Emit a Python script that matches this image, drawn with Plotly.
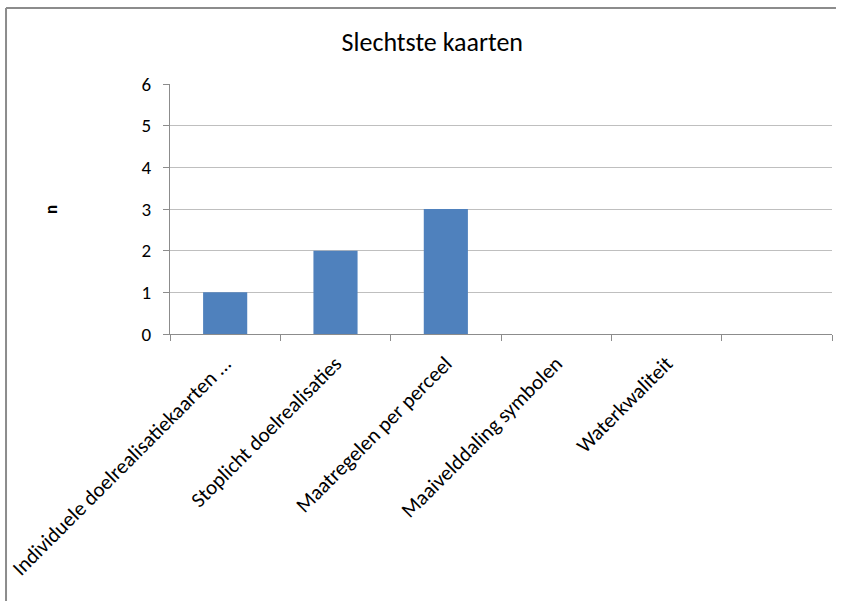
import plotly.graph_objects as go

categories = [
    "Individuele doelrealisatiekaarten ...",
    "Stoplicht doelrealisaties",
    "Maatregelen per perceel",
    "Maaivelddaling symbolen",
    "Waterkwaliteit",
    " ",
]
values = [1, 2, 3, 0, 0, None]
y_ticks = [0, 1, 2, 3, 4, 5, 6]

FONT = "Calibri, Carlito, Lato, sans-serif"
GRID = "#BFBFBF"
AXIS = "#8C8C8C"

fig = go.Figure(
    go.Bar(x=categories, y=values, marker=dict(color="#4F81BD", line=dict(width=0)))
)

fig.update_layout(
    width=846,
    height=601,
    margin=dict(l=170, r=14, t=84, b=267),
    paper_bgcolor="white",
    plot_bgcolor="white",
    bargap=0.6,
    showlegend=False,
    font=dict(family=FONT, color="#000000"),
    title=dict(
        text="Slechtste kaarten",
        x=0.511,
        xref="container",
        xanchor="center",
        y=0.930,
        yref="container",
        yanchor="middle",
        font=dict(family=FONT, size=26, color="#000000"),
    ),
)

fig.update_xaxes(
    type="category",
    categoryorder="array",
    categoryarray=categories,
    showgrid=False,
    showline=True,
    linecolor=AXIS,
    linewidth=1,
    ticks="outside",
    tickson="boundaries",
    ticklen=6,
    tickcolor=AXIS,
    tickangle=-45,
    ticklabelstandoff=8,
    tickfont=dict(family=FONT, size=21, color="#000000"),
    automargin=False,
)

fig.update_yaxes(
    range=[0, 6],
    tickvals=y_ticks,
    showgrid=True,
    gridcolor=GRID,
    gridwidth=1,
    showline=True,
    linecolor=AXIS,
    linewidth=1,
    ticks="outside",
    ticklen=6,
    tickcolor=AXIS,
    ticklabelstandoff=8,
    zeroline=False,
    tickfont=dict(family=FONT, size=19, color="#000000"),
    automargin=False,
)

fig.add_annotation(
    text="<b>n</b>",
    xref="paper",
    yref="paper",
    x=-0.1798,
    y=0.5,
    xanchor="center",
    yanchor="middle",
    textangle=-90,
    showarrow=False,
    font=dict(family=FONT, size=17, color="#000000"),
)

# chart border (top and left visible)
fig.add_shape(type="line", xref="paper", yref="paper",
              x0=-0.2477, x1=1.006, y0=1.304, y1=1.304,
              line=dict(color="#8C8C8C", width=2))
fig.add_shape(type="line", xref="paper", yref="paper",
              x0=-0.2477, x1=-0.2477, y0=1.304, y1=-1.07,
              line=dict(color="#8C8C8C", width=2))

fig.write_html(
    "out.html",
    config={"displayModeBar": False},
    post_script="document.body.style.margin='0';",
)
